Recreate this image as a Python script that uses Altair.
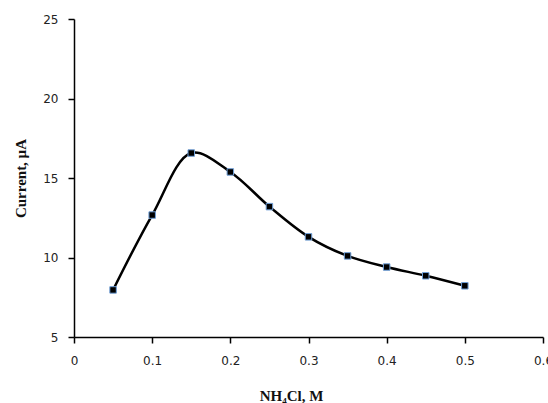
import altair as alt
import pandas as pd

# NH4Cl concentration (M) and measured peak current (µA)
conc = [0.05, 0.10, 0.15, 0.20, 0.25, 0.30, 0.35, 0.40, 0.45, 0.50]
current = [7.96, 12.67, 16.57, 15.38, 13.2, 11.3, 10.1, 9.4, 8.85, 8.22]

x_ticks = [0, 0.1, 0.2, 0.3, 0.4, 0.5, 0.6]
y_ticks = [5, 10, 15, 20, 25]

df = pd.DataFrame({"conc": conc, "current": current})

x_enc = alt.X(
    "conc:Q",
    scale=alt.Scale(domain=[0, 0.6], nice=False, zero=False),
    axis=alt.Axis(
        values=x_ticks,
        title="NH₄Cl, M",
        titleFont="Liberation Serif",
        titleFontWeight="bold",
        titleFontSize=15,
        titleColor="#111",
        titleX=217,
        titleY=58,
        titleAlign="center",
        titleBaseline="middle",
        labelFont="DejaVu Sans",
        labelFontSize=12,
        labelColor="#222",
        labelPadding=12,
        labelFlush=False,
        labelOverlap=False,
        labelExpr="datum.value == 0 ? '0' : format(datum.value, '.1f')",
        domainColor="black",
        domainWidth=1.5,
        tickColor="black",
        tickWidth=1.5,
        tickSize=6,
        grid=False,
    ),
)

y_enc = alt.Y(
    "current:Q",
    scale=alt.Scale(domain=[5, 25], nice=False, zero=False),
    axis=alt.Axis(
        values=y_ticks,
        title="Current, µA",
        titleFont="Liberation Serif",
        titleFontWeight="bold",
        titleFontSize=15,
        titleColor="#111",
        titleAngle=270,
        titleX=-54,
        titleY=159,
        titleAlign="center",
        titleBaseline="middle",
        labelFont="DejaVu Sans",
        labelFontSize=12,
        labelColor="#222",
        labelPadding=10,
        labelFlush=False,
        domainColor="black",
        domainWidth=1.5,
        tickColor="black",
        tickWidth=1.5,
        tickSize=6,
        grid=False,
    ),
)

base = alt.Chart(df).encode(x=x_enc, y=y_enc)

curve = base.mark_line(
    interpolate="catmull-rom", color="black", strokeWidth=2.5
)

markers = base.mark_point(
    shape="square", filled=True, size=42, color="black",
    stroke="#6f9fd8", strokeWidth=1, opacity=1,
)

chart = (
    alt.layer(curve, markers)
    .properties(
        width=469,
        height=318,
        autosize=alt.AutoSizeParams(type="none"),
        padding={"left": 74, "top": 19, "right": 5, "bottom": 66},
        background="white",
    )
    .configure_view(stroke=None)
)

chart.save("out.html", embed_options={"renderer": "svg", "actions": False})
